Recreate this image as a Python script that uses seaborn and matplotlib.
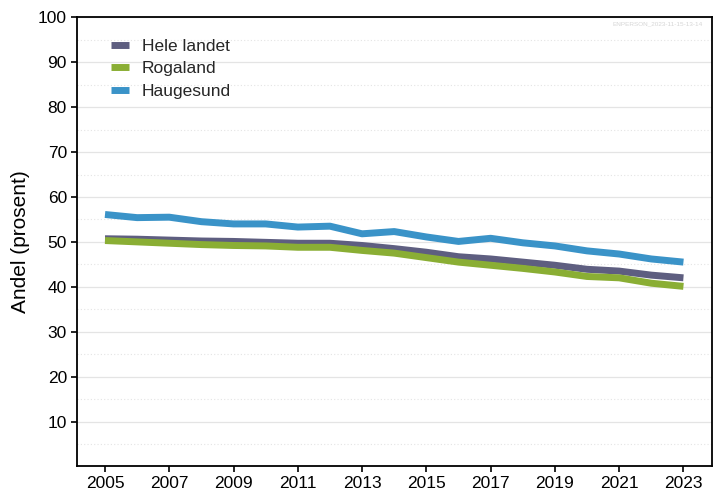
import matplotlib
matplotlib.use("Agg")
import matplotlib.pyplot as plt
import seaborn as sns
import pandas as pd
from matplotlib.ticker import MultipleLocator

years = list(range(2005, 2024))
hele_landet = [50.7, 50.6, 50.4, 50.2, 50.1, 49.9, 49.7, 49.7, 49.2, 48.5, 47.7,
               46.7, 46.2, 45.5, 44.8, 43.9, 43.5, 42.6, 42.0]
rogaland = [50.3, 50.0, 49.7, 49.4, 49.2, 49.1, 48.8, 48.8, 48.1, 47.5, 46.5,
            45.5, 44.8, 44.1, 43.3, 42.3, 42.0, 40.8, 40.1]
haugesund = [56.1, 55.4, 55.5, 54.5, 54.0, 54.0, 53.3, 53.5, 51.8, 52.3, 51.1,
             50.1, 50.8, 49.8, 49.1, 48.0, 47.3, 46.2, 45.5]
series_names = ["Hele landet", "Rogaland", "Haugesund"]
colors = ["#5e5e80", "#8aae34", "#3a93c8"]
x_ticks = list(range(2005, 2024, 2))
y_ticks = list(range(10, 101, 10))

df = pd.DataFrame({
    "year": years * 3,
    "value": hele_landet + rogaland + haugesund,
    "series": [series_names[0]] * len(years) + [series_names[1]] * len(years) + [series_names[2]] * len(years),
})

sns.set_theme(style="white")
plt.rcParams["font.family"] = ["Liberation Sans", "DejaVu Sans"]

fig = plt.figure(figsize=(7.23, 4.91), dpi=100)
ax = fig.add_axes([0.1061, 0.0499, 0.8783, 0.9149])

sns.lineplot(data=df, x="year", y="value", hue="series", hue_order=series_names,
             palette=colors, linewidth=5, ax=ax, solid_capstyle="butt")

ax.set_xlim(2004.12, 2023.88)
ax.set_ylim(0, 100)
ax.set_xticks(x_ticks)
ax.set_yticks(y_ticks)
ax.yaxis.set_minor_locator(MultipleLocator(5))
ax.grid(True, which="major", axis="y", color="#e4e4e4", linewidth=0.9, linestyle="-")
ax.grid(True, which="minor", axis="y", color="#e4e4e4", linewidth=0.8, linestyle=(0, (1, 2)))
ax.grid(False, axis="x")
ax.set_axisbelow(True)
ax.tick_params(axis="both", which="major", direction="out", length=4.5, width=1.2,
               color="black", labelsize=12.5, labelcolor="black", bottom=True, left=True,
               pad=2.5)
ax.tick_params(axis="y", which="minor", length=0)
ax.set_xlabel("")
ax.set_ylabel("Andel (prosent)", fontsize=15, color="black", labelpad=6)
for s in ax.spines.values():
    s.set_color("black")
    s.set_linewidth(1.3)

leg = ax.legend(loc="upper left", bbox_to_anchor=(0.029, 0.987), frameon=False,
                fontsize=12.5, handlelength=1.05, handletextpad=0.75, labelspacing=0.42)
for line in leg.get_lines():
    line.set_linewidth(5)
    line.set_solid_capstyle("butt")

ax.text(0.986, 0.99, "ENPERSON_2023-11-15-13-14", transform=ax.transAxes,
        ha="right", va="top", fontsize=4.6, color="#d6d6d6")

fig.savefig("out.png", dpi=100)
